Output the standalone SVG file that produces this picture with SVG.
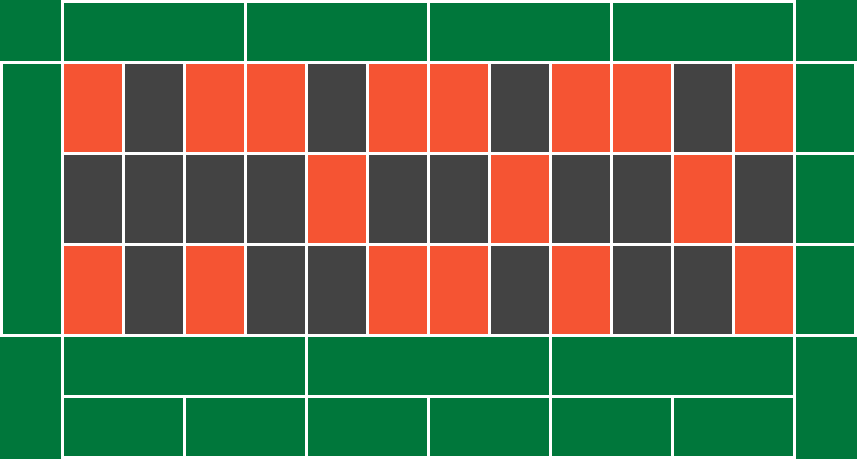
<svg xmlns="http://www.w3.org/2000/svg" width="857" height="459" viewBox="0 0 857 459">
<style>
.g{fill:#00773b}
.r{fill:#f55433}
.d{fill:#434343}
</style>
<rect width="857" height="459" fill="#ffffff"/>
<g id="corners">
<rect class="g" x="0" y="0" width="61" height="61"/>
<rect class="g" x="796" y="0" width="61" height="61"/>
<rect class="g" x="0" y="337" width="61" height="122"/>
<rect class="g" x="796" y="337" width="61" height="122"/>
</g>
<g id="top-dozens">
<rect class="g" x="64" y="3" width="180" height="58"/>
<rect class="g" x="247" y="3" width="180" height="58"/>
<rect class="g" x="430" y="3" width="180" height="58"/>
<rect class="g" x="613" y="3" width="180" height="58"/>
</g>
<g id="zero"><rect class="g" x="3" y="64" width="58" height="270"/></g>
<g id="columns">
<rect class="g" x="796" y="64" width="58" height="88"/>
<rect class="g" x="796" y="155" width="58" height="88"/>
<rect class="g" x="796" y="246" width="58" height="88"/>
</g>
<g id="row1">
<rect class="r" x="64" y="64" width="58" height="88"/>
<rect class="d" x="125" y="64" width="58" height="88"/>
<rect class="r" x="186" y="64" width="58" height="88"/>
<rect class="r" x="247" y="64" width="58" height="88"/>
<rect class="d" x="308" y="64" width="58" height="88"/>
<rect class="r" x="369" y="64" width="58" height="88"/>
<rect class="r" x="430" y="64" width="58" height="88"/>
<rect class="d" x="491" y="64" width="58" height="88"/>
<rect class="r" x="552" y="64" width="58" height="88"/>
<rect class="r" x="613" y="64" width="58" height="88"/>
<rect class="d" x="674" y="64" width="58" height="88"/>
<rect class="r" x="735" y="64" width="58" height="88"/>
</g>
<g id="row2">
<rect class="d" x="64" y="155" width="58" height="88"/>
<rect class="d" x="125" y="155" width="58" height="88"/>
<rect class="d" x="186" y="155" width="58" height="88"/>
<rect class="d" x="247" y="155" width="58" height="88"/>
<rect class="r" x="308" y="155" width="58" height="88"/>
<rect class="d" x="369" y="155" width="58" height="88"/>
<rect class="d" x="430" y="155" width="58" height="88"/>
<rect class="r" x="491" y="155" width="58" height="88"/>
<rect class="d" x="552" y="155" width="58" height="88"/>
<rect class="d" x="613" y="155" width="58" height="88"/>
<rect class="r" x="674" y="155" width="58" height="88"/>
<rect class="d" x="735" y="155" width="58" height="88"/>
</g>
<g id="row3">
<rect class="r" x="64" y="246" width="58" height="88"/>
<rect class="d" x="125" y="246" width="58" height="88"/>
<rect class="r" x="186" y="246" width="58" height="88"/>
<rect class="d" x="247" y="246" width="58" height="88"/>
<rect class="d" x="308" y="246" width="58" height="88"/>
<rect class="r" x="369" y="246" width="58" height="88"/>
<rect class="r" x="430" y="246" width="58" height="88"/>
<rect class="d" x="491" y="246" width="58" height="88"/>
<rect class="r" x="552" y="246" width="58" height="88"/>
<rect class="d" x="613" y="246" width="58" height="88"/>
<rect class="d" x="674" y="246" width="58" height="88"/>
<rect class="r" x="735" y="246" width="58" height="88"/>
</g>
<g id="bottom-thirds">
<rect class="g" x="64" y="337" width="241" height="58"/>
<rect class="g" x="308" y="337" width="241" height="58"/>
<rect class="g" x="552" y="337" width="241" height="58"/>
</g>
<g id="bottom-sixths">
<rect class="g" x="64" y="398" width="119" height="58"/>
<rect class="g" x="186" y="398" width="119" height="58"/>
<rect class="g" x="308" y="398" width="119" height="58"/>
<rect class="g" x="430" y="398" width="119" height="58"/>
<rect class="g" x="552" y="398" width="119" height="58"/>
<rect class="g" x="674" y="398" width="119" height="58"/>
</g>
<g id="connectors"/>
</svg>
